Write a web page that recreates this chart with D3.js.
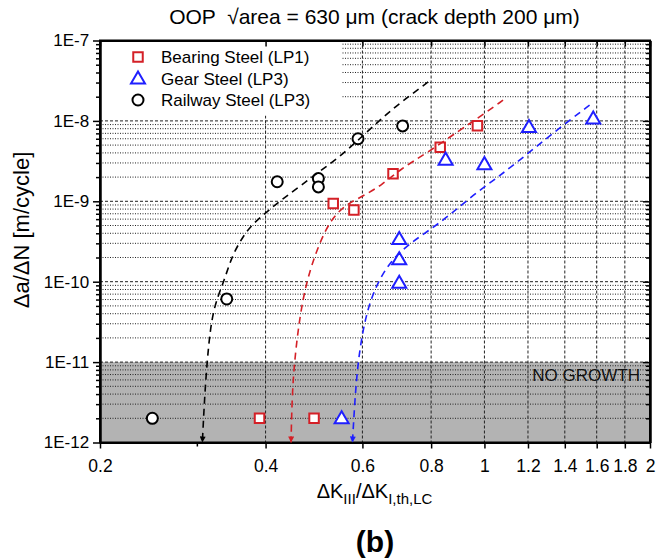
<!DOCTYPE html>
<html>
<head>
<meta charset="utf-8">
<script src="https://cdn.jsdelivr.net/npm/d3@7"></script>
<style>
  body { margin: 0; background: #fff; }
  svg { font-family: "Liberation Sans", Arial, sans-serif; }
</style>
</head>
<body>
<div id="chart"></div>
<script>
// --- data ---
const bearingX = [0.39, 0.49, 0.531, 0.579, 0.682, 0.831, 0.971];
const bearingY = [2e-12, 2e-12, 9.4e-10, 7.8e-10, 2.2e-9, 4.7e-9, 8.7e-9];

const gearX = [0.55, 0.70, 0.70, 0.70, 0.85, 1.0, 1.205, 1.577];
const gearY = [2e-12, 3.4e-10, 1.9e-10, 9.7e-11, 3.3e-9, 2.9e-9, 8.4e-9, 1.07e-8];

const railX = [0.249, 0.34, 0.42, 0.499, 0.499, 0.589, 0.71];
const railY = [2e-12, 6.1e-11, 1.75e-9, 1.92e-9, 1.51e-9, 6.0e-9, 8.67e-9];

// dashed fit curves (top -> bottom, last point is the arrow tip)
const railCurveX = [0.790, 0.706, 0.650, 0.598, 0.550, 0.505, 0.465, 0.431, 0.402, 0.377, 0.362, 0.347, 0.336, 0.321, 0.3145, 0.310, 0.307];
const railCurveY = [3.05e-8, 1.72e-8, 1.07e-8, 6.33e-9, 3.75e-9, 2.44e-9, 1.59e-9, 1.09e-9, 7.4e-10, 5.06e-10, 3.46e-10, 2.04e-10, 1.0e-10, 4.67e-11, 1.49e-11, 3.91e-12, 1e-12];

const bearingCurveX = [1.081, 0.980, 0.902, 0.784, 0.706, 0.650, 0.606, 0.565, 0.534, 0.512, 0.492, 0.475, 0.462, 0.452, 0.447, 0.445];
const bearingCurveY = [1.81e-8, 1.12e-8, 7.66e-9, 3.94e-9, 2.56e-9, 1.59e-9, 1.19e-9, 9.42e-10, 6.74e-10, 4.18e-10, 2.15e-10, 1.0e-10, 3.86e-11, 1.12e-11, 3.91e-12, 1e-12];

const gearCurveX = [1.553, 1.429, 1.296, 1.159, 1.051, 0.953, 0.865, 0.795, 0.732, 0.682, 0.645, 0.619, 0.602, 0.589, 0.581, 0.5755];
const gearCurveY = [1.57e-8, 1.02e-8, 6.04e-9, 3.25e-9, 1.93e-9, 1.19e-9, 6.74e-10, 4.39e-10, 3.0e-10, 1.95e-10, 1.1e-10, 5.64e-11, 2.64e-11, 1.01e-11, 3.23e-12, 1e-12];

const xTicks = [0.2, 0.4, 0.6, 0.8, 1, 1.2, 1.4, 1.6, 1.8, 2];
const xTickLabels = ["0.2", "0.4", "0.6", "0.8", "1", "1.2", "1.4", "1.6", "1.8", "2"];
const yTicks = [1e-12, 1e-11, 1e-10, 1e-9, 1e-8, 1e-7];
const yTickLabels = ["1E-12", "1E-11", "1E-10", "1E-9", "1E-8", "1E-7"];
const noGrowthLimit = 1e-11;

const seriesNames = ["Bearing Steel (LP1)", "Gear Steel (LP3)", "Railway Steel (LP3)"];
const RED = "#d42027", BLUE = "#1f1fff", BLACK = "#000";

// --- layout ---
const width = 656, height = 559;
const m = { left: 100, right: 650, top: 40.5, bottom: 442.5 };
const FONT = "Liberation Sans, Arial, sans-serif";

const svg = d3.select("#chart").append("svg")
  .attr("width", width).attr("height", height);

const x = d3.scaleLog().domain([0.2, 2]).range([m.left, m.right]);
const y = d3.scaleLog().domain([1e-12, 1e-7]).range([m.bottom, m.top]);

// no growth band
svg.append("rect")
  .attr("x", m.left).attr("y", y(noGrowthLimit))
  .attr("width", m.right - m.left).attr("height", m.bottom - y(noGrowthLimit))
  .attr("fill", "#b3b3b3");

// grid
const grid = svg.append("g");
const minorY = [];
for (let e = -12; e < -7; e++) for (let k = 2; k <= 9; k++) minorY.push(k * Math.pow(10, e));

grid.selectAll(".gmy").data(minorY).join("line")
  .attr("x1", m.left).attr("x2", m.right)
  .attr("y1", d => y(d)).attr("y2", d => y(d))
  .attr("stroke", "#222").attr("stroke-width", 1)
  .attr("stroke-dasharray", "1,1.5");

grid.selectAll(".gMy").data(yTicks.slice(1, -1)).join("line")
  .attr("x1", m.left).attr("x2", m.right)
  .attr("y1", d => y(d)).attr("y2", d => y(d))
  .attr("stroke", "#222").attr("stroke-width", 1)
  .attr("stroke-dasharray", "3,2");

grid.selectAll(".gMx").data(xTicks.slice(1, -1)).join("line")
  .attr("x1", d => x(d)).attr("x2", d => x(d))
  .attr("y1", m.top).attr("y2", m.bottom)
  .attr("stroke", "#222").attr("stroke-width", 1)
  .attr("stroke-dasharray", "3,2");

// legend box hides the grid behind it
svg.append("rect")
  .attr("x", m.left).attr("y", m.top)
  .attr("width", 241).attr("height", 75)
  .attr("fill", "#fff");

svg.append("text")
  .attr("x", 640).attr("y", y(noGrowthLimit) + 19)
  .attr("text-anchor", "end")
  .attr("font-size", 17).attr("fill", "#111")
  .text("NO GROWTH");

// axes
const axisB = d3.axisBottom(x).tickValues(xTicks).tickFormat((d, i) => xTickLabels[i]).tickSize(6).tickSizeOuter(0);
const gB = svg.append("g").attr("transform", `translate(0,${m.bottom})`).call(axisB);
const axisBm = d3.axisBottom(x).tickValues([0.3]).tickFormat("").tickSize(4).tickSizeOuter(0);
svg.append("g").attr("transform", `translate(0,${m.bottom})`).call(axisBm);
const axisT = d3.axisBottom(x).tickValues(xTicks).tickFormat("").tickSize(6).tickSizeOuter(0);
svg.append("g").attr("transform", `translate(0,${m.top})`).call(axisT);

const axisL = d3.axisLeft(y).tickValues(yTicks).tickFormat((d, i) => yTickLabels[i]).tickSize(7).tickSizeOuter(0);
const gL = svg.append("g").attr("transform", `translate(${m.left},0)`).call(axisL);
const axisLm = d3.axisLeft(y).tickValues(minorY).tickFormat("").tickSize(4).tickSizeOuter(0);
svg.append("g").attr("transform", `translate(${m.left},0)`).call(axisLm);

const axisR = d3.axisLeft(y).tickValues(yTicks).tickFormat("").tickSize(7).tickSizeOuter(0);
svg.append("g").attr("transform", `translate(${m.right},0)`).call(axisR);
const axisRm = d3.axisLeft(y).tickValues(minorY).tickFormat("").tickSize(4).tickSizeOuter(0);
svg.append("g").attr("transform", `translate(${m.right},0)`).call(axisRm);

svg.selectAll(".domain").attr("stroke", "#000").attr("stroke-width", 2);
svg.selectAll(".tick line").attr("stroke", "#000").attr("stroke-width", 1.5);
gB.selectAll("text").attr("font-size", 17.5).attr("fill", "#000").attr("dy", "1.15em")
  .attr("font-family", FONT);
gL.selectAll("text").attr("font-size", 17).attr("fill", "#000").attr("dx", "-0.05em")
  .attr("font-family", FONT);

// frame
svg.append("rect")
  .attr("x", m.left).attr("y", m.top).attr("width", m.right - m.left).attr("height", m.bottom - m.top)
  .attr("fill", "none").attr("stroke", "#000").attr("stroke-width", 2);

// markers
const squareSym = d3.symbol().type(d3.symbolSquare).size(90);
const triSym = d3.symbol().type(d3.symbolTriangle).size(85);

function drawPoints(xs, ys, sym, color, dy) {
  svg.append("g").selectAll("path").data(xs.map((v, i) => [v, ys[i]])).join("path")
    .attr("transform", d => `translate(${x(d[0])},${y(d[1]) + (dy || 0)})`)
    .attr("d", sym)
    .attr("fill", "#fff").attr("stroke", color).attr("stroke-width", 2);
}
drawPoints(bearingX, bearingY, squareSym, RED);
drawPoints(gearX, gearY, triSym, BLUE, 1);
svg.append("g").selectAll("circle").data(railX.map((v, i) => [v, railY[i]])).join("circle")
  .attr("cx", d => x(d[0])).attr("cy", d => y(d[1])).attr("r", 5.5)
  .attr("fill", "#fff").attr("stroke", BLACK).attr("stroke-width", 2);

// fit curves with arrow heads
const defs = svg.append("defs");
[["arrRed", RED], ["arrBlue", BLUE], ["arrBlack", BLACK]].forEach(([id, c]) => {
  defs.append("marker").attr("id", id)
    .attr("viewBox", "0 0 10 10").attr("refX", 10).attr("refY", 5)
    .attr("markerWidth", 10).attr("markerHeight", 6).attr("markerUnits", "userSpaceOnUse")
    .attr("orient", "auto")
    .append("path").attr("d", "M0,0L10,5L0,10Z").attr("fill", c);
});

const line = d3.line().x(d => x(d[0])).y(d => y(d[1])).curve(d3.curveBasis);
function drawCurve(xs, ys, color, arrow) {
  svg.append("path")
    .datum(xs.map((v, i) => [v, ys[i]]))
    .attr("d", line)
    .attr("fill", "none").attr("stroke", color).attr("stroke-width", 1.6)
    .attr("stroke-dasharray", "7,5")
    .attr("marker-end", `url(#${arrow})`);
}
drawCurve(railCurveX, railCurveY, BLACK, "arrBlack");
drawCurve(bearingCurveX, bearingCurveY, RED, "arrRed");
drawCurve(gearCurveX, gearCurveY, BLUE, "arrBlue");

// legend
const legend = svg.append("g");
const legendY = [57, 78.5, 100];
legend.append("path").attr("transform", `translate(138,${legendY[0]})`).attr("d", squareSym)
  .attr("fill", "#fff").attr("stroke", RED).attr("stroke-width", 2);
legend.append("path").attr("transform", `translate(138,${legendY[1] + 1})`).attr("d", triSym)
  .attr("fill", "#fff").attr("stroke", BLUE).attr("stroke-width", 2);
legend.append("circle").attr("cx", 138).attr("cy", legendY[2]).attr("r", 5.5)
  .attr("fill", "#fff").attr("stroke", BLACK).attr("stroke-width", 2);
legend.selectAll("text").data(seriesNames).join("text")
  .attr("x", 161).attr("y", (d, i) => legendY[i] + 6)
  .attr("font-size", 17).attr("fill", "#000")
  .text(d => d);

// titles
svg.append("text")
  .attr("x", 374.5).attr("y", 24)
  .attr("text-anchor", "middle").attr("font-size", 21)
  .style("white-space", "pre")
  .text("OOP  \u221Aarea = 630 \u03BCm (crack depth 200 \u03BCm)");

svg.append("text")
  .attr("transform", `translate(29,230) rotate(-90)`)
  .attr("text-anchor", "middle").attr("font-size", 22)
  .text("\u0394a/\u0394N [m/cycle]");

const xl = svg.append("text")
  .attr("x", 374.5).attr("y", 498)
  .attr("text-anchor", "middle").attr("font-size", 20);
xl.append("tspan").text("\u0394K");
xl.append("tspan").attr("font-size", 15).attr("dy", 6).text("III");
xl.append("tspan").attr("dy", -6).text("/\u0394K");
xl.append("tspan").attr("font-size", 15).attr("dy", 6).text("I,th,LC");

svg.append("text")
  .attr("x", 375).attr("y", 552)
  .attr("text-anchor", "middle").attr("font-size", 30).attr("font-weight", "bold")
  .text("(b)");
</script>
</body>
</html>
